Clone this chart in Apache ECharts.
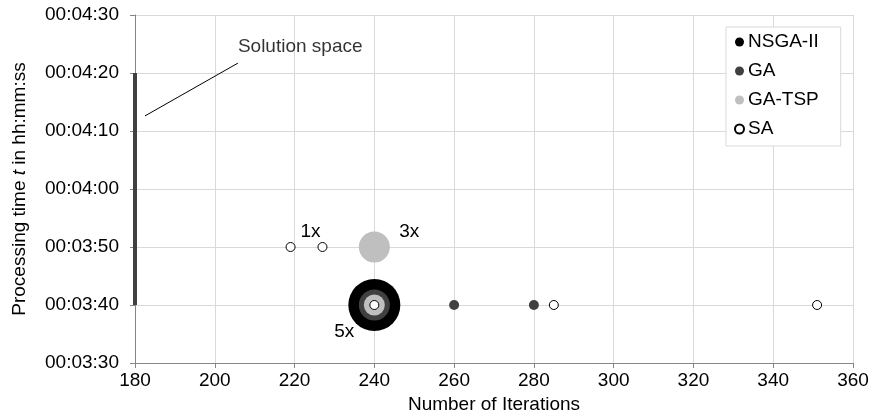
<!DOCTYPE html>
<html>
<head>
<meta charset="utf-8">
<script src="https://cdn.jsdelivr.net/npm/echarts@6/dist/echarts.min.js"></script>
<style>
html,body{margin:0;padding:0;background:#fff;}
#chart{width:872px;height:414px;}
</style>
</head>
<body>
<div id="chart"></div>
<script>
// ---- data ----
const xTicks = [180, 200, 220, 240, 260, 280, 300, 320, 340, 360];
const yTickLabels = ['00:03:30','00:03:40','00:03:50','00:04:00','00:04:10','00:04:20','00:04:30'];
const seriesNames = ['NSGA-II', 'GA', 'GA-TSP', 'SA'];
const nsga2Points = [[240, '00:03:40']];
const gaBubblePoints = [[240, '00:03:40']];
const gaPoints = [[260, '00:03:40'], [280, '00:03:40']];
const gaTspPoints = [[240, '00:03:40'], [240, '00:03:50']];
const saPoints = [[219, '00:03:50'], [227, '00:03:50'], [240, '00:03:40'], [285, '00:03:40'], [351, '00:03:40']];
const solutionSpace = [[180, '00:03:40'], [180, '00:04:20']];
const solutionSpaceLeader = [[182.5, '00:04:12.6'], [205.8, '00:04:21.7']];
const solutionSpaceText = [[205.8, '00:04:24.5']];
const multiplicityLabels = { sa: '1x', gaTsp: '3x', nsga2: '5x' };

// ---- helpers ----
function toSec(s) {
  const p = s.split(':');
  return (+p[0]) * 3600 + (+p[1]) * 60 + parseFloat(p[2]);
}
function pad(n) { return (n < 10 ? '0' : '') + n; }
function fmt(v) {
  const h = Math.floor(v / 3600), m = Math.floor((v % 3600) / 60), s = Math.round(v % 60);
  return pad(h) + ':' + pad(m) + ':' + pad(s);
}
function pts(arr) { return arr.map(p => [p[0], toSec(p[1])]); }

const FONT = 'Liberation Sans, Arial, sans-serif';
const FS = 19;
const yMin = toSec(yTickLabels[0]);
const yMax = toSec(yTickLabels[yTickLabels.length - 1]);

const lblStyle = { show: true, position: 'inside', color: '#000', fontFamily: FONT, fontSize: FS };

const chart = echarts.init(document.getElementById('chart'), null, { renderer: 'canvas' });
chart.setOption({
  animation: false,
  backgroundColor: '#fff',
  textStyle: { fontFamily: FONT },
  grid: { left: 135, right: 19, top: 15, bottom: 51, containLabel: false, outerBoundsMode: 'none' },
  legend: {
    data: seriesNames,
    orient: 'vertical',
    left: 726,
    top: 27,
    padding: [5, 22, 7, 8],
    itemGap: 9,
    itemWidth: 9,
    itemHeight: 9,
    icon: 'circle',
    borderColor: '#d9d9d9',
    borderWidth: 1,
    backgroundColor: '#fff',
    textStyle: { color: '#000', fontSize: FS, fontFamily: FONT, lineHeight: 20, padding: [0, 0, 0, -1] }
  },
  xAxis: {
    type: 'value',
    min: xTicks[0],
    max: xTicks[xTicks.length - 1],
    interval: xTicks[1] - xTicks[0],
    name: 'Number of Iterations',
    nameLocation: 'middle',
    nameGap: 32,
    nameTextStyle: { color: '#000', fontSize: FS, fontFamily: FONT },
    axisLine: { show: true, lineStyle: { color: '#868686', width: 1 } },
    axisTick: { show: true, length: 5, lineStyle: { color: '#868686' } },
    axisLabel: { color: '#000', fontSize: FS, fontFamily: FONT, margin: 8 },
    splitLine: { show: true, lineStyle: { color: '#d9d9d9', width: 1 } }
  },
  yAxis: {
    type: 'value',
    min: yMin,
    max: yMax,
    interval: 10,
    name: '{a|Processing time }{i|t}{a| in hh:mm:ss}',
    nameLocation: 'middle',
    nameGap: 106,
    nameRotate: 90,
    nameTextStyle: {
      color: '#000', fontSize: FS, fontFamily: FONT,
      rich: {
        a: { color: '#000', fontSize: FS, fontFamily: FONT },
        i: { color: '#000', fontSize: FS, fontFamily: FONT, fontStyle: 'italic' }
      }
    },
    axisLine: { show: true, lineStyle: { color: '#868686', width: 1 } },
    axisTick: { show: true, length: 5, lineStyle: { color: '#868686' } },
    axisLabel: { color: '#000', fontSize: FS, fontFamily: FONT, margin: 16, formatter: v => fmt(v) },
    splitLine: { show: true, lineStyle: { color: '#d9d9d9', width: 1 } }
  },
  series: [
    {
      name: 'NSGA-II', type: 'scatter', z: 3, symbol: 'circle', symbolSize: 52,
      itemStyle: { color: '#000', opacity: 1 },
      data: pts(nsga2Points).map(p => ({
        value: p,
        label: Object.assign({}, lblStyle, { formatter: multiplicityLabels.nsga2, offset: [-30, 27] })
      }))
    },
    {
      name: 'GA', type: 'scatter', z: 4, symbol: 'circle', symbolSize: 31,
      itemStyle: { color: '#404040', opacity: 1 },
      data: pts(gaBubblePoints)
    },
    {
      name: 'GA', type: 'scatter', z: 4, symbol: 'circle', symbolSize: 10,
      itemStyle: { color: '#404040', opacity: 1 },
      data: pts(gaPoints)
    },
    {
      name: 'GA-TSP', type: 'scatter', z: 5, symbol: 'circle',
      symbolSize: (v, params) => params.dataIndex === 0 ? 21 : 31,
      itemStyle: { color: '#bfbfbf', opacity: 1 },
      data: pts(gaTspPoints).map((p, i) => i === 1 ? ({
        value: p,
        label: Object.assign({}, lblStyle, { formatter: multiplicityLabels.gaTsp, offset: [35, -15] })
      }) : p)
    },
    {
      name: 'SA', type: 'scatter', z: 6, symbol: 'circle', symbolSize: 9,
      itemStyle: { color: '#fff', borderColor: '#000', borderWidth: 1, opacity: 1 },
      data: pts(saPoints).map((p, i) => i === 1 ? ({
        value: p,
        label: Object.assign({}, lblStyle, { formatter: multiplicityLabels.sa, offset: [-12, -15] })
      }) : p)
    },
    {
      name: 'solution-space', type: 'line', z: 2, symbol: 'none',
      lineStyle: { color: '#404040', width: 4 },
      data: pts(solutionSpace), silent: true
    },
    {
      name: 'leader', type: 'line', z: 2, symbol: 'none',
      lineStyle: { color: '#000', width: 1 },
      data: pts(solutionSpaceLeader), silent: true
    },
    {
      name: 'leader-text', type: 'scatter', z: 2, symbolSize: 1,
      itemStyle: { color: 'rgba(0,0,0,0)' },
      label: { show: true, position: 'inside', align: 'left', color: '#000', fontSize: FS, fontFamily: FONT, formatter: 'Solution space' },
      data: pts(solutionSpaceText), silent: true
    }
  ]
});
</script>
</body>
</html>
